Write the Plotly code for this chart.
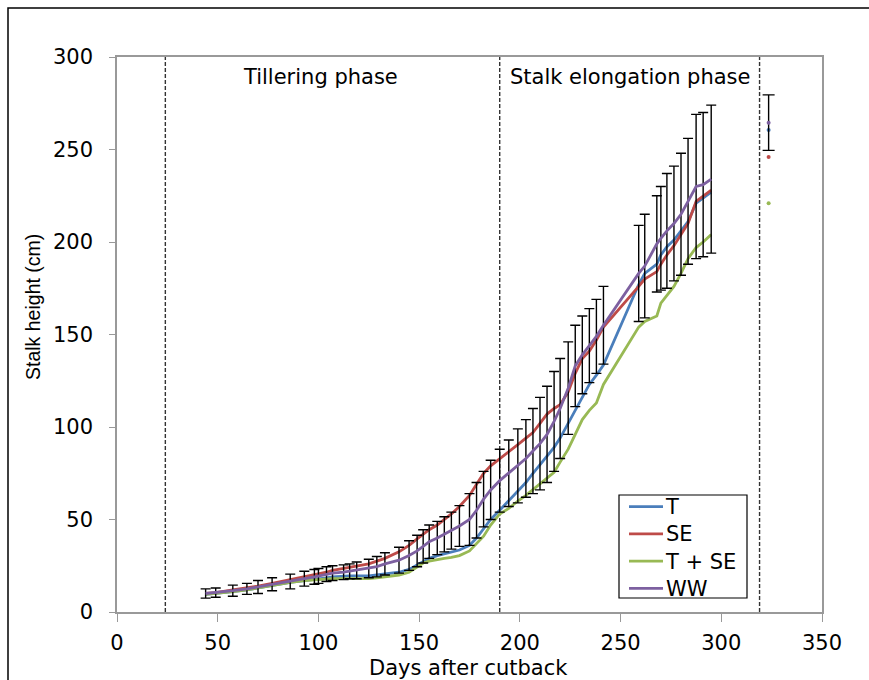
import plotly.graph_objects as go

days = [44, 49, 57.5, 64.5, 70, 77, 86, 93, 98, 100, 104, 107, 112.5, 115.5, 119, 125, 129, 133,
        140, 145, 149, 152, 155, 159, 162.5, 166, 170, 175, 178.5, 182, 185.5, 190, 194.5, 199,
        203, 206.5, 210, 213.5, 217, 220, 224, 227.5, 231, 234.5, 238, 241.5, 259, 262, 268,
        270, 273, 276.5, 280, 283.5, 287.5, 291, 295]

T = [9.5, 10, 11, 12, 13, 14.5, 16, 17, 17.5, 18, 18.5, 19, 19.5, 19.5, 19.5, 19.5, 20, 20.5,
     21.5, 23, 25.5, 27.5, 29, 30.5, 31.5, 32.5, 33.5, 36, 40, 45, 50, 55, 60, 65,
     70, 75, 79.5, 84, 89, 94, 102, 109, 116, 123, 128, 133.5, 177, 183, 188,
     193, 197.5, 201, 206, 211, 221, 224, 227]

SE = [10, 10.5, 12, 13, 14, 15.5, 17.5, 19, 20, 20.5, 21.5, 22.5, 23.5, 24, 25, 26, 27.5, 29,
      32.5, 36, 39.5, 42, 44.5, 47, 50, 53, 57, 63, 69, 75, 79, 83, 87, 90.5,
      94, 97, 102, 107, 110, 112, 119, 129, 137, 141, 147, 154, 176, 180, 184,
      188, 193, 198, 204, 210, 222, 225, 228]

TSE = [9.5, 10, 11, 12, 13, 14.5, 16, 17, 17.5, 17.5, 18, 18, 18, 18, 18, 18, 18.5, 19,
       20, 21.5, 24.5, 26.5, 27.5, 28.5, 29, 29.5, 30.5, 33, 37, 41, 47, 53, 56, 60,
       63, 66, 69, 72, 75.5, 81, 88, 96, 104, 109, 113, 123, 154, 157, 160,
       167, 171, 176, 183, 191, 197, 200, 204]

WW = [10, 10.5, 11.5, 12.5, 13.5, 15, 16.5, 18, 19, 19.5, 20.5, 21, 21.5, 22, 22.5, 23.5, 24.5, 26,
      28, 30.5, 33, 35.5, 38, 40, 42, 44, 46.5, 50, 55, 61, 66, 71, 75, 79,
      83, 87, 91, 96, 103, 110, 121, 133, 139, 144, 149, 155, 183, 187, 199,
      202, 206, 210, 215, 222, 230, 231, 234]

WW_err = [2.5, 2.5, 3, 3, 3.5, 3.5, 4, 4, 4, 4, 4, 4, 4, 4, 4.5, 5, 5.5, 6,
          7, 8, 8.5, 9, 9, 9, 9.5, 10, 11, 14, 15, 15, 16, 17, 18, 20,
          21, 23, 25, 26, 27, 27, 25, 22, 21, 20, 20, 21, 26, 28, 26,
          28, 31, 31, 33, 34, 39, 39, 40]

final_day = [323.5]
final_T = [260.5]
final_SE = [246]
final_TSE = [221]
final_WW = [264.5]
final_WW_err = [15]

phase_bounds = [24, 190, 319]
phase_labels = ["Tillering phase", "Stalk elongation phase"]
phase_label_x = [101, 255]
phase_label_y = 289

x_ticks = [0, 50, 100, 150, 200, 250, 300, 350]
y_ticks = [0, 50, 100, 150, 200, 250, 300]

legend_names = ["T", "SE", "T + SE", "WW"]
colors = {"T": "#4A7EBB", "SE": "#BE4B48", "T + SE": "#98B954", "WW": "#7D60A0"}
FONT = "DejaVu Sans, Liberation Sans, sans-serif"
FONT_Y = "Liberation Sans, Arial, sans-serif"
FS = 21

# plot-area pixel geometry (for placing the legend box and titles)
L, R, TOP, BOT = 117, 822, 57, 612
def px_x(p):
    return (p - L) / (R - L)
def px_y(p):
    return (BOT - p) / (BOT - TOP)

fig = go.Figure()
series = [("T", T), ("SE", SE), ("T + SE", TSE)]
for name, vals in series:
    fig.add_trace(go.Scatter(x=days, y=vals, mode="lines", name=name, showlegend=False,
                             line=dict(color=colors[name], width=2.8)))
fig.add_trace(go.Scatter(x=days, y=WW, mode="lines", name="WW", showlegend=False,
                         line=dict(color=colors["WW"], width=2.8),
                         error_y=dict(type="data", array=WW_err, visible=True,
                                      color="black", thickness=1.4, width=5)))

# final harvest points
for name, vals in [("T", final_T), ("SE", final_SE), ("T + SE", final_TSE)]:
    fig.add_trace(go.Scatter(x=final_day, y=vals, mode="markers", showlegend=False,
                             marker=dict(color=colors[name], size=4)))
fig.add_trace(go.Scatter(x=final_day, y=final_WW, mode="markers", showlegend=False,
                         marker=dict(color=colors["WW"], size=4),
                         error_y=dict(type="data", array=final_WW_err, visible=True,
                                      color="black", thickness=1.4, width=6)))

shapes = []
for b in phase_bounds:
    shapes.append(dict(type="line", xref="x", yref="y", x0=b, x1=b, y0=0, y1=300,
                       line=dict(color="#333333", width=1.4, dash="4px,2px"), layer="below"))
# outer chart border
shapes.append(dict(type="rect", xref="paper", yref="paper", x0=px_x(8), x1=px_x(880),
                   y0=px_y(700), y1=px_y(8), line=dict(color="black", width=1.5)))

annotations = []
for lbl, lx in zip(phase_labels, phase_label_x):
    annotations.append(dict(x=lx, y=phase_label_y, xref="x", yref="y", text=lbl,
                            showarrow=False, font=dict(size=FS, color="black", family=FONT)))

# axis titles
annotations.append(dict(x=px_x(33), y=px_y(307), xref="paper", yref="paper",
                        xanchor="center", yanchor="middle",
                        text="Stalk height (cm)", textangle=-90, showarrow=False,
                        font=dict(size=19.5, color="black", family=FONT_Y)))
annotations.append(dict(x=px_x(468), y=px_y(668), xref="paper", yref="paper",
                        xanchor="center", yanchor="middle",
                        text="Days after cutback", showarrow=False,
                        font=dict(size=FS, color="black", family=FONT)))

# custom legend (Excel style, tight rows)
shapes.append(dict(type="rect", xref="paper", yref="paper", x0=px_x(619), x1=px_x(747),
                   y0=px_y(598), y1=px_y(495), line=dict(color="black", width=1.2),
                   fillcolor="white", layer="above"))
LEG_FS = 21
leg_center = 547.5
row_gap = LEG_FS * 1.3
row_y = [leg_center + (i - 1.5) * row_gap for i in range(len(legend_names))]
for name, ry in zip(legend_names, row_y):
    shapes.append(dict(type="line", xref="paper", yref="paper", x0=px_x(629), x1=px_x(663),
                       y0=px_y(ry), y1=px_y(ry), line=dict(color=colors[name], width=2.8),
                       layer="above"))
annotations.append(dict(x=px_x(664), y=px_y(leg_center), xref="paper", yref="paper",
                        text="<br>".join(legend_names), showarrow=False, align="left",
                        xanchor="left", yanchor="middle", borderpad=0,
                        font=dict(size=LEG_FS, color="black", family=FONT)))

fig.update_layout(
    width=869, height=680,
    margin=dict(l=L, r=869 - R, t=TOP, b=680 - BOT, autoexpand=False),
    paper_bgcolor="white", plot_bgcolor="white",
    font=dict(family=FONT, color="black", size=FS),
    shapes=shapes, annotations=annotations, showlegend=False,
    xaxis=dict(range=[0, 350], tickvals=x_ticks, showgrid=False, zeroline=False,
               showline=True, linecolor="#999999", linewidth=1.5, mirror=True,
               ticks="outside", ticklen=8, tickcolor="#999999", automargin=False,
               ticklabelstandoff=3, tickfont=dict(size=FS)),
    yaxis=dict(range=[0, 300], tickvals=y_ticks, showgrid=False, zeroline=False,
               showline=True, linecolor="#999999", linewidth=1.5, mirror=True,
               ticks="outside", ticklen=6, tickcolor="#999999", ticklabelstandoff=12,
               automargin=False, tickfont=dict(size=FS)),
)

fig.write_html("out.html")
